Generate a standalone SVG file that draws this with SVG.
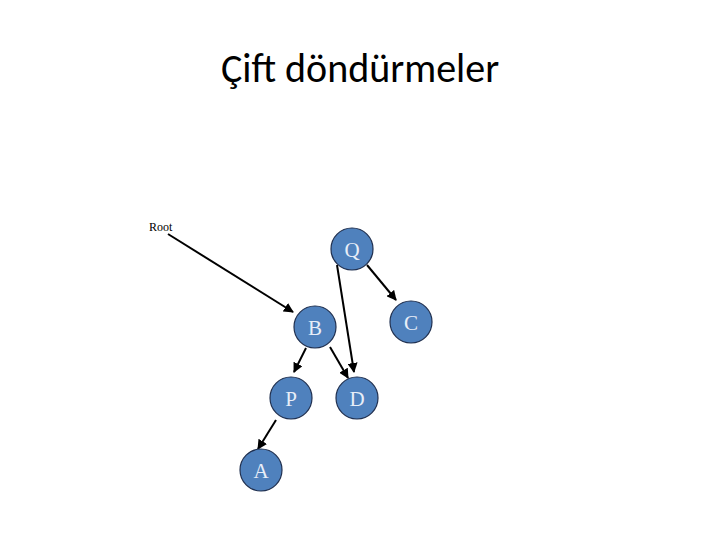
<svg xmlns="http://www.w3.org/2000/svg" width="720" height="540" viewBox="0 0 720 540">
<style>
.n circle{fill:#4f81bd;stroke:#1f2f4f;stroke-width:1.2}
.n text{font-family:"Liberation Serif",serif;font-size:21px;fill:#e8eef8;text-anchor:middle}
.e line{stroke:#000;stroke-width:2;marker-end:url(#ah)}
</style>
<defs><marker id="ah" viewBox="0 0 10 10" refX="9" refY="5" markerWidth="5" markerHeight="5" orient="auto" markerUnits="strokeWidth"><path d="M0,0L10,5L0,10z" fill="#000"/></marker></defs>
<rect width="720" height="540" fill="#fff"/>
<text x="360" y="82" font-family="Carlito,'Liberation Sans',sans-serif" font-size="40" text-anchor="middle">Çift döndürmeler</text>
<text x="149" y="231" font-family="Liberation Serif,serif" font-size="12">Root</text>
<g class="e">
<line x1="168" y1="234" x2="293" y2="312"/>
<line x1="367" y1="265" x2="396" y2="300"/>
<line x1="337" y1="265" x2="354" y2="372"/>
<line x1="306" y1="348" x2="294" y2="372"/>
<line x1="330" y1="347" x2="348" y2="378"/>
<line x1="276" y1="420" x2="258" y2="449"/>
</g>
<g class="n" id="Q"><circle cx="352" cy="249" r="21"/><text x="352" y="257">Q</text></g>
<g class="n" id="C"><circle cx="411" cy="322" r="21"/><text x="411" y="330">C</text></g>
<g class="n" id="B"><circle cx="315" cy="327" r="21"/><text x="315" y="335">B</text></g>
<g class="n" id="P"><circle cx="291" cy="398" r="21"/><text x="291" y="406">P</text></g>
<g class="n" id="D"><circle cx="357" cy="398" r="21"/><text x="357" y="406">D</text></g>
<g class="n" id="A"><circle cx="261" cy="470" r="21"/><text x="261" y="478">A</text></g>
</svg>
